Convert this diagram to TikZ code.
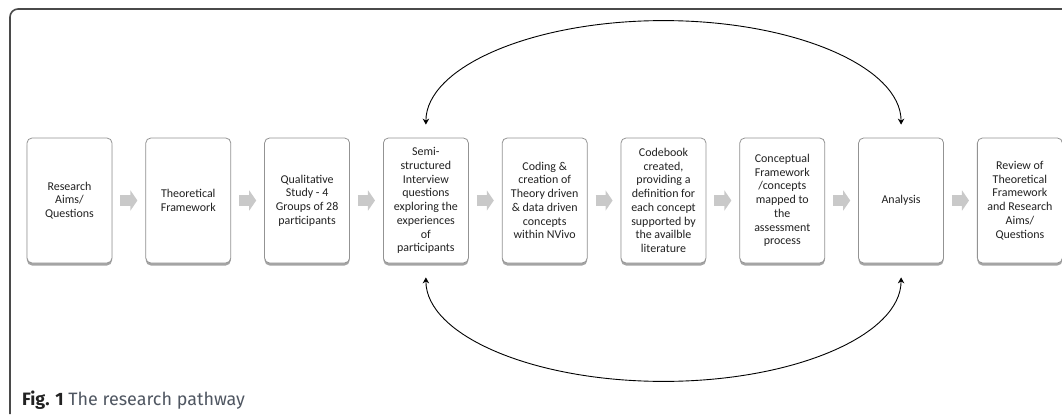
\documentclass[tikz,border=0pt]{standalone}
\usepackage{fontspec}
\setmainfont{Carlito}
\newfontfamily\capfont{Fira Sans}
\usepackage{xcolor}
\definecolor{edge}{HTML}{939393}
\definecolor{shade}{HTML}{A4A4A4}
\definecolor{chevron}{HTML}{C9C9C9}
\definecolor{frame}{HTML}{4A4A4A}
\definecolor{ink}{HTML}{222222}
\definecolor{capgrey}{HTML}{4F5661}
\usepackage{tikz}
\usetikzlibrary{arrows.meta,positioning,calc,shadows}
\tikzset{
  >=Stealth,
  font=\fontsize{12}{13.8}\selectfont,
  stage/.style={draw=edge,line width=0.8pt,rounded corners=5bp,fill=white,
                align=center,text=ink,minimum width=85bp,minimum height=125bp,inner sep=2bp,
                drop shadow={shadow xshift=0bp,shadow yshift=-2.5bp,fill=shade,opacity=1}},
  chev/.style={-{Triangle[length=7bp,width=20bp]},line width=11bp,draw=chevron,
               shorten <=8bp,shorten >=8bp},
  loopback/.style={{Stealth[length=6bp,width=6.5bp]}-{Stealth[length=6bp,width=6.5bp]},
                   line width=0.9pt,draw=black},
  figcap/.style={font=\capfont\fontsize{18}{21}\selectfont,anchor=base west,inner sep=0pt},
}

\begin{document}
\begin{tikzpicture}[x=1bp,y=1bp]
  \useasboundingbox (0,0) rectangle (1062,414);
  % ---- frame ----
  \draw[draw=frame,line width=1.6bp,rounded corners=8bp] (10,0) -- (10,405) -- (1062,405);

  % ---- stages ----
  \node[stage] (b1) at (69.5,213.5) {Research\\Aims/\\Questions};
  \node[stage,right=33bp of b1] (b2) {Theoretical\\Framework};
  \node[stage,right=33bp of b2] (b3) {Qualitative\\Study - 4\\Groups of 28\\participants};
  \node[stage,right=33bp of b3] (b4) {Semi-\\structured\\Interview\\questions\\exploring the\\experiences\\of\\participants};
  \node[stage,right=33bp of b4] (b5) {Coding \&\\creation of\\Theory driven\\\& data driven\\concepts\\within NVivo};
  \node[stage,right=33bp of b5] (b6) {Codebook\\created,\\providing a\\definition for\\each concept\\supported by\\the availble\\literature};
  \node[stage,right=33bp of b6] (b7) {Conceptual\\Framework\\/concepts\\mapped to\\the\\assessment\\process};
  \node[stage,right=33bp of b7] (b8) {Analysis};
  \node[stage,right=33bp of b8] (b9) {Review of\\Theoretical\\Framework\\and Research\\Aims/\\Questions};

  % ---- grey step arrows ----
  \foreach \a/\b in {b1/b2,b2/b3,b3/b4,b4/b5,b5/b6,b6/b7,b7/b8,b8/b9}
    \draw[chev] (\a) -- (\b);

  % ---- feedback loops ----
  \draw[loopback] let \p1=($(b8.north)-(b4.north)$) in
    ($(b4.north)+(0,13)$) arc[start angle=180,end angle=0,x radius=0.5*\x1,y radius=104bp];
  \draw[loopback] let \p1=($(b8.south)-(b4.south)$) in
    ($(b4.south)+(0,-14)$) arc[start angle=180,end angle=360,x radius=0.5*\x1,y radius=104bp];

  % ---- caption ----
  \node[figcap] (caption) at (22,9) {\textbf{\textcolor{ink}{Fig. 1}} \textcolor{capgrey}{The research pathway}};
\end{tikzpicture}
\end{document}
